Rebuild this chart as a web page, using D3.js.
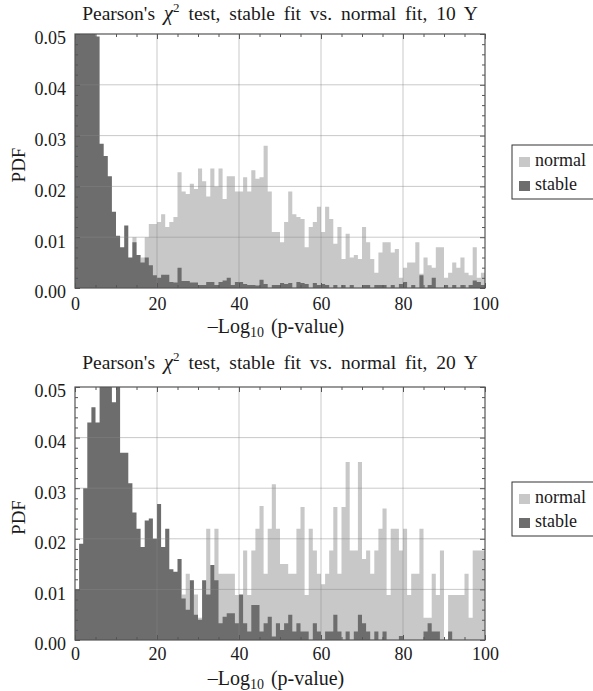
<!DOCTYPE html>
<html>
<head>
<meta charset="utf-8">
<script src="https://cdn.jsdelivr.net/npm/d3@7/dist/d3.min.js"></script>
<style>
  body { margin: 0; background: #fff; }
  svg text { font-family: "Liberation Serif", "Times New Roman", serif; fill: #1a1a1a; }
</style>
</head>
<body>
<div id="chart"></div>
<script>
/*------------------------------- data -------------------------------*/

// PDF per unit bin of -Log10(p-value), bins [0,1), [1,2) ... [99,100)
const normal10 = [
  0, 0, 0, 0, 0.001, 0, 0.002, 0, 0.001, 0.003,
  0.001, 0.002, 0.003, 0.002, 0.01, 0.004, 0.006, 0.01, 0.0126, 0.0126,
  0.013, 0.0145, 0.012, 0.013, 0.014, 0.0228, 0.019, 0.0185, 0.0205, 0.0195,
  0.0235, 0.021, 0.018, 0.0235, 0.02, 0.0235, 0.0175, 0.022, 0.022, 0.019,
  0.019, 0.0218, 0.019, 0.0232, 0.0215, 0.0218, 0.028, 0.019, 0.011, 0.011,
  0.009, 0.013, 0.019, 0.0145, 0.014, 0.0136, 0.008, 0.012, 0.013, 0.016,
  0.011, 0.016, 0.0136, 0.0087, 0.012, 0.0057, 0.0107, 0.006, 0.0065, 0.0057,
  0.012, 0.009, 0.0057, 0.003, 0.007, 0.009, 0.009, 0.007, 0.0077, 0.002,
  0.004, 0.005, 0.005, 0.009, 0.0028, 0.006, 0.0045, 0.004, 0.008, 0.008,
  0.002, 0.003, 0.005, 0.004, 0.006, 0.003, 0.0025, 0.008, 0.002, 0.003
];
const stable10 = [
  0.09, 0.085, 0.075, 0.065, 0.056, 0.0495, 0.0284, 0.026, 0.022, 0.015,
  0.0103, 0.008, 0.0123, 0.006, 0.009, 0.0065, 0.005, 0.006, 0.0045, 0.0025,
  0.002, 0.0026, 0.0026, 0.0012, 0.0011, 0.004, 0.0014, 0.0014, 0.0011, 0.0011,
  0.0006, 0.0006, 0.0012, 0.0012, 0.0006, 0.0012, 0.0015, 0.002, 0.0006, 0.0012,
  0.0012, 0.0008, 0.0006, 0.0006, 0.0005, 0.0016, 0.0008, 0, 0.0006, 0.0006,
  0.001, 0.0008, 0.001, 0, 0.0012, 0.001, 0.0008, 0, 0.001, 0.0006,
  0.0008, 0.0006, 0, 0.0006, 0, 0.0006, 0, 0.0006, 0, 0,
  0.0006, 0.0006, 0, 0.0006, 0.0006, 0.0006, 0, 0.0006, 0, 0.0008,
  0.0012, 0, 0.0006, 0, 0.0025, 0, 0.0006, 0.002, 0, 0,
  0.0006, 0, 0.0006, 0, 0.0006, 0, 0.0006, 0.0015, 0.0012, 0.0006
];
const normal20 = [
  0, 0, 0.002, 0, 0.002, 0, 0.004, 0.002, 0, 0.004,
  0.002, 0.004, 0.009, 0.004, 0.002, 0.004, 0.009, 0.004, 0.002, 0.004,
  0.009, 0.004, 0.009, 0.004, 0.009, 0.004, 0.009, 0.0131, 0.004, 0.009,
  0.0044, 0.009, 0.022, 0.009, 0.022, 0.0131, 0.0131, 0.0131, 0.0131, 0.0089,
  0.0089, 0.0177, 0.0089, 0.0177, 0.022, 0.0265, 0.0131, 0.022, 0.0308, 0.022,
  0.015, 0.015, 0.0131, 0.0131, 0.022, 0.0263, 0.0089, 0.022, 0.0177, 0.0131,
  0.011, 0.0131, 0.0177, 0.0263, 0.0131, 0.0263, 0.0352, 0.0177, 0.0177, 0.0352,
  0.016, 0.0177, 0.0131, 0.0177, 0.022, 0.026, 0.0089, 0.022, 0.022, 0.0177,
  0.022, 0.0089, 0.0131, 0.0131, 0.022, 0.0044, 0.0044, 0.0131, 0.0089, 0.0177,
  0, 0.0089, 0.0089, 0.0089, 0.0089, 0.0131, 0.0044, 0.0177, 0.0177, 0.0177
];
const stable20 = [
  0.01, 0.019, 0.03, 0.043, 0.046, 0.043, 0.06, 0.06, 0.055, 0.047,
  0.052, 0.037, 0.037, 0.031, 0.0252, 0.022, 0.0184, 0.0236, 0.024, 0.02,
  0.0269, 0.0184, 0.022, 0.014, 0.0135, 0.016, 0.0082, 0.006, 0.0118, 0.005,
  0.004, 0.0118, 0.009, 0.0148, 0.0118, 0.0033, 0.0046, 0.0053, 0.0053, 0.0033,
  0.009, 0.0033, 0.0017, 0.0069, 0.0069, 0.0017, 0.0033, 0.0046, 0.0007, 0.0033,
  0.002, 0.0033, 0.005, 0.0017, 0.0033, 0.0017, 0.0017, 0, 0.0033, 0.0017,
  0, 0.0017, 0.0017, 0.005, 0.0017, 0, 0.0017, 0, 0.0017, 0.005,
  0.0033, 0.0017, 0, 0.0017, 0, 0.0017, 0, 0, 0, 0.0008,
  0, 0, 0, 0, 0, 0.0017, 0.0033, 0.0017, 0.0017, 0,
  0, 0.0017, 0, 0, 0, 0, 0, 0, 0, 0
];

const seriesNames = ["normal", "stable"];
const periods = ["10 Y", "20 Y"];
const xTicks = [0, 20, 40, 60, 80, 100];
const yTicks = [0, 0.01, 0.02, 0.03, 0.04, 0.05];

/*------------------------------- layout -------------------------------*/

const size = { width: 593, height: 691 };
const colors = { normal: "#c8c8c8", stable: "#6d6d6d" };
const left = 75, right = 485;

const panels = [
  { period: periods[0], top: 34, bottom: 288, titleY: 20, labelY: 333, tickPad: 9, legendY: 145, normal: normal10, stable: stable10 },
  { period: periods[1], top: 387, bottom: 640, titleY: 369, labelY: 685, tickPad: 7, legendY: 482, normal: normal20, stable: stable20 }
];

const svg = d3.select("#chart").append("svg")
  .attr("width", size.width).attr("height", size.height);

svg.append("rect").attr("width", size.width).attr("height", size.height).attr("fill", "#fff");

const x = d3.scaleLinear().domain([0, 100]).range([left, right]);

panels.forEach(p => {
  const y = d3.scaleLinear().domain([0, 0.05]).range([p.bottom, p.top]).clamp(true);
  const g = svg.append("g");

  // histogram as one stepped area per series (normal behind, stable in front)
  const area = d3.area()
    .curve(d3.curveStepAfter)
    .x(d => x(d.bin))
    .y0(p.bottom)
    .y1(d => y(d.v));

  seriesNames.forEach(name => {
    const vals = p[name].map((v, i) => ({ bin: i, v: v }));
    vals.push({ bin: vals.length, v: p[name][p[name].length - 1] });
    g.append("path")
      .datum(vals)
      .attr("d", area)
      .attr("fill", colors[name]);
  });

  // grid on top of the bars
  const grid = g.append("g").attr("stroke", "#888").attr("stroke-opacity", 0.45).attr("stroke-width", 1);
  grid.selectAll(".gx").data(xTicks.slice(1, -1)).enter().append("line")
    .attr("x1", d => x(d)).attr("x2", d => x(d)).attr("y1", p.top).attr("y2", p.bottom);
  grid.selectAll(".gy").data(yTicks.slice(1, -1)).enter().append("line")
    .attr("x1", left).attr("x2", right).attr("y1", d => y(d)).attr("y2", d => y(d));

  // axes (ticks inside the frame)
  const minorX = d3.range(0, 101, 5).filter(v => !xTicks.includes(v));
  const minorY = d3.range(0, 0.0501, 0.002).filter(v => !yTicks.some(t => Math.abs(t - v) < 1e-9));

  const axes = [
    g.append("g").attr("transform", `translate(0,${p.bottom})`)
      .call(d3.axisBottom(x).tickValues(xTicks).tickSize(-5).tickPadding(p.tickPad)),
    g.append("g").attr("transform", `translate(0,${p.bottom})`)
      .call(d3.axisBottom(x).tickValues(minorX).tickSize(-3).tickFormat("")),
    g.append("g").attr("transform", `translate(0,${p.top})`)
      .call(d3.axisTop(x).tickValues(xTicks).tickSize(-5).tickFormat("")),
    g.append("g").attr("transform", `translate(0,${p.top})`)
      .call(d3.axisTop(x).tickValues(minorX).tickSize(-3).tickFormat("")),
    g.append("g").attr("transform", `translate(${left},0)`)
      .call(d3.axisLeft(y).tickValues(yTicks).tickSize(-5).tickPadding(9).tickFormat(d3.format(".2f"))),
    g.append("g").attr("transform", `translate(${left},0)`)
      .call(d3.axisLeft(y).tickValues(minorY).tickSize(-3).tickFormat("")),
    g.append("g").attr("transform", `translate(${right},0)`)
      .call(d3.axisRight(y).tickValues(yTicks).tickSize(-5).tickFormat("")),
    g.append("g").attr("transform", `translate(${right},0)`)
      .call(d3.axisRight(y).tickValues(minorY).tickSize(-3).tickFormat(""))
  ];
  axes.forEach(a => {
    a.select(".domain").remove();
    a.selectAll("line").attr("stroke", "#555");
    a.selectAll("text").attr("font-size", 18).attr("fill", "#1a1a1a")
      .style("font-family", "'Liberation Serif', 'Times New Roman', serif");
  });
  axes[4].selectAll("text").attr("dy", "0.55em");

  // frame
  g.append("rect")
    .attr("x", left).attr("y", p.top)
    .attr("width", right - left).attr("height", p.bottom - p.top)
    .attr("fill", "none").attr("stroke", "#555").attr("stroke-width", 1.2);

  // title
  const title = svg.append("text")
    .attr("x", 280).attr("y", p.titleY)
    .attr("text-anchor", "middle").attr("font-size", 19.5)
    .style("word-spacing", "4px");
  title.append("tspan").text("Pearson's ");
  title.append("tspan").attr("font-style", "italic").attr("font-size", 21).text("\u03c7");
  title.append("tspan").attr("font-size", 13).attr("dy", -8).text("2");
  title.append("tspan").attr("dy", 8).text(` test, stable fit vs. normal fit, ${p.period}`);

  // axis labels
  svg.append("text")
    .attr("transform", `translate(25,${(p.top + p.bottom) / 2 + 4}) rotate(-90)`)
    .attr("text-anchor", "middle").attr("font-size", 19).text("PDF");

  const xl = svg.append("text")
    .attr("x", 276).attr("y", p.labelY)
    .attr("text-anchor", "middle").attr("font-size", 20)
    .style("word-spacing", "2px");
  xl.append("tspan").text("\u2013Log");
  xl.append("tspan").attr("font-size", 14).attr("dy", 4).text("10");
  xl.append("tspan").attr("dy", -4).text(" (p-value)");

  // legend
  const lg = svg.append("g").attr("transform", `translate(512,${p.legendY})`);
  lg.append("rect").attr("width", 100).attr("height", 54)
    .attr("fill", "#fff").attr("stroke", "#333").attr("stroke-width", 1);
  seriesNames.forEach((name, i) => {
    lg.append("rect").attr("x", 7).attr("y", 12 + i * 24).attr("width", 11).attr("height", 10)
      .attr("fill", colors[name]);
    lg.append("text").attr("x", 23).attr("y", 21 + i * 24).attr("font-size", 18).text(name);
  });
});
</script>
</body>
</html>
